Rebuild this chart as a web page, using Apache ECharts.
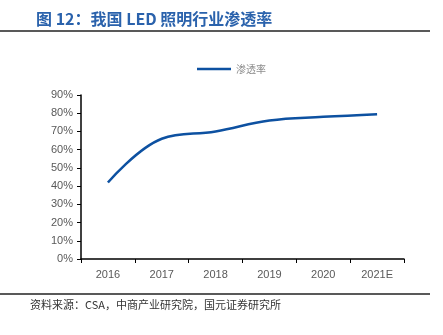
<!DOCTYPE html>
<html><head><meta charset="utf-8">
<script src="https://cdn.jsdelivr.net/npm/echarts@6/dist/echarts.min.js"></script>
<style>html,body{margin:0;padding:0;background:#fff}#c{width:443px;height:335px}</style>
</head><body><div id="c"></div>
<script>
const categories = ['2016','2017','2018','2019','2020','2021E'];
const penetration = [42, 66, 70, 76, 78, 79.5];
const seriesName = '渗透率';
const titleText = '图 12：我国 LED 照明行业渗透率';
const sourceText = '资料来源：CSA，中商产业研究院，国元证券研究所';

const chart = echarts.init(document.getElementById('c'));
chart.setOption({
  animation: false,
  backgroundColor: '#fff',
  title: {
    text: titleText, left: 31, top: 6,
    textStyle: {color: '#2a62ac', fontSize: 16, fontWeight: 'bold', fontFamily: 'Noto Sans CJK SC'}
  },
  legend: {
    top: 59, left: 192, itemWidth: 34, itemHeight: 10, itemGap: 6, icon: 'path://M0,4 L34,4 L34,6.3 L0,6.3 Z',
    data: [seriesName],
    textStyle: {color: '#8c8c8c', fontSize: 10, fontFamily: 'Noto Sans CJK SC'}
  },
  graphic: [
    {type: 'line', shape: {x1: 0, y1: 31, x2: 430, y2: 31}, style: {stroke: '#222', lineWidth: 1.5}},
    {type: 'line', shape: {x1: 0, y1: 294, x2: 430, y2: 294}, style: {stroke: '#222', lineWidth: 1.5}},
    {type: 'text', left: 30, top: 299, style: {text: sourceText, fill: '#333', font: '11px "Noto Sans CJK SC"'}}
  ],
  grid: {left: 81, right: 39, top: 95, bottom: 76},
  xAxis: {
    type: 'category', data: categories, boundaryGap: true,
    axisLine: {lineStyle: {color: '#000', width: 1.5}},
    axisTick: {show: true, length: 4, lineStyle: {color: '#000'}},
    axisLabel: {color: '#595959', fontSize: 11, margin: 10, fontFamily: 'Liberation Sans'}
  },
  yAxis: {
    type: 'value', min: 0, max: 90, interval: 10,
    axisLine: {show: true, lineStyle: {color: '#000', width: 1.5}},
    axisTick: {show: true, length: 4, lineStyle: {color: '#000'}},
    splitLine: {show: false},
    axisLabel: {color: '#595959', fontSize: 11, margin: 8, formatter: '{value}%', fontFamily: 'Liberation Sans'}
  },
  series: [{
    name: seriesName, type: 'line', data: penetration, smooth: 0.4,
    symbol: 'none', lineStyle: {color: '#0d51a1', width: 2.5}, itemStyle: {color: '#0d51a1'}
  }]
});
</script></body></html>
